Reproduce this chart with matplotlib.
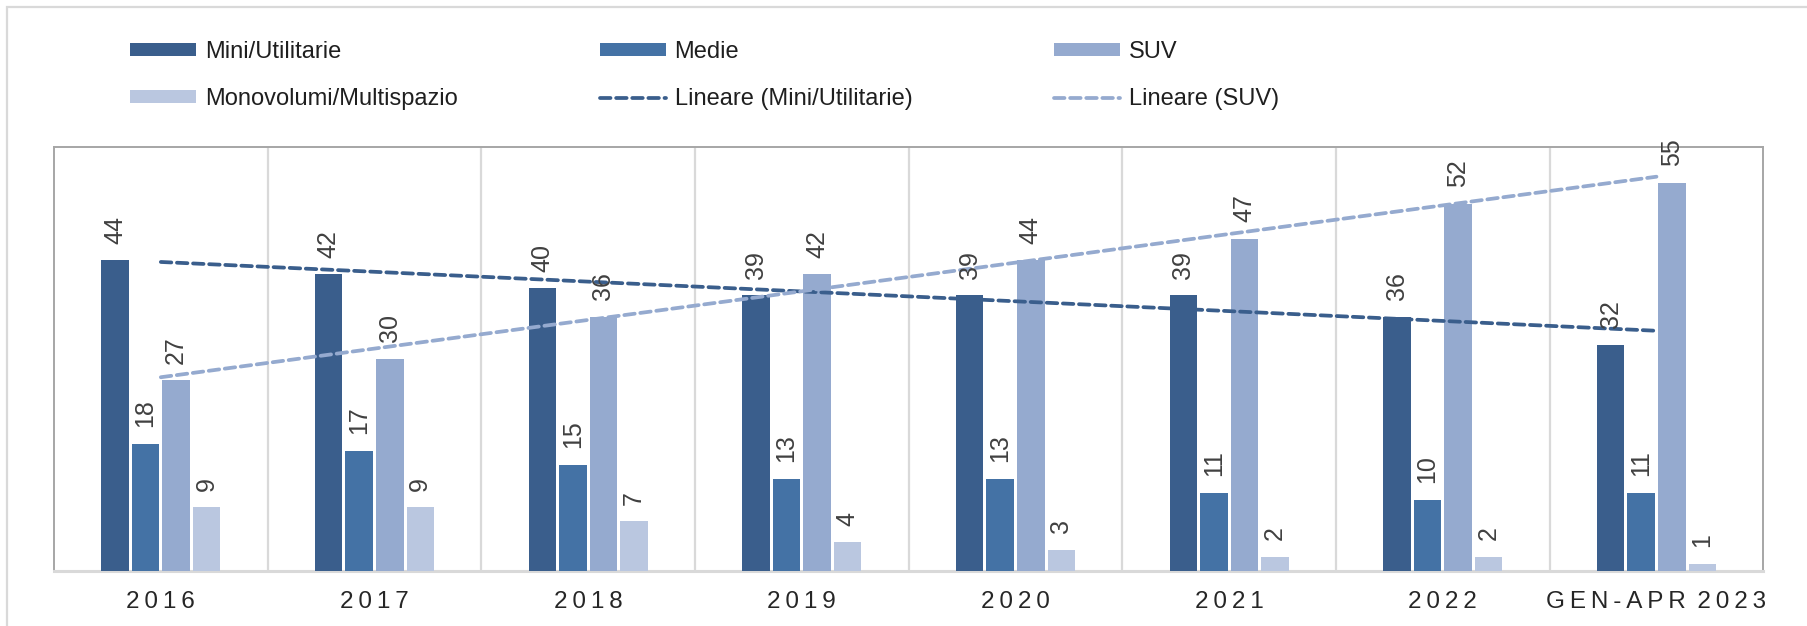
import numpy as np
import matplotlib
matplotlib.use("Agg")
import matplotlib.pyplot as plt
from matplotlib.patches import Rectangle

plt.rcParams['font.family'] = ['Liberation Sans', 'DejaVu Sans']

categories = ["2016", "2017", "2018", "2019", "2020", "2021", "2022", "GEN-APR 2023"]
mini = [44, 42, 40, 39, 39, 39, 36, 32]
medie = [18, 17, 15, 13, 13, 11, 10, 11]
suv = [27, 30, 36, 42, 44, 47, 52, 55]
mono = [9, 9, 7, 4, 3, 2, 2, 1]

series_names = ["Mini/Utilitarie", "Medie", "SUV", "Monovolumi/Multispazio"]
trend_names = ["Lineare (Mini/Utilitarie)", "Lineare (SUV)"]
colors = ["#3A5E8C", "#4472A5", "#95AACF", "#BAC7E0"]

W, H = 1808, 626
fig = plt.figure(figsize=(W / 100, H / 100), dpi=100)

# outer light frame
fig.patches.append(Rectangle((7 / W, -0.1), 1.2, 1 - 7 / H + 0.1, transform=fig.transFigure,
                             fill=False, edgecolor="#D9D9D9", linewidth=1.6, zorder=0))

ax = fig.add_axes([54 / W, 1 - 570.7 / H, (1763.3 - 54) / W, (570.7 - 147.3) / H])

n = len(categories)
x = np.arange(n)
slot = 0.143
bw = 0.129
data = [mini, medie, suv, mono]
bars = []
for i, (vals, col, name) in enumerate(zip(data, colors, series_names)):
    offs = (i - 1.5) * slot
    b = ax.bar(x + offs, vals, width=bw, color=col, label=name, zorder=3)
    bars.append(b)
    for xi, v in zip(x + offs, vals):
        ax.annotate(str(v), (xi, v), xytext=(0, 12), textcoords="offset points",
                    rotation=90, ha="center", va="bottom", fontsize=18,
                    color="#404040", zorder=5, annotation_clip=False)

# linear trend lines (Excel "Lineare")
trend_handles = []
for vals, col, name in [(mini, colors[0], trend_names[0]),
                        (suv, colors[2], trend_names[1])]:
    k, q = np.polyfit(x, vals, 1)
    ln, = ax.plot([x[0], x[-1]], [q + k * x[0], q + k * x[-1]], color=col,
                  linestyle=(0, (2.8, 1.5)), linewidth=2.7, zorder=4, label=name,
                  dash_capstyle="round")
    trend_handles.append(ln)


def spaced(s):
    words = s.split(" ")
    return " \u2009".join("\u2009".join(list(w)) for w in words)


ax.set_xlim(-0.5, n - 0.5)
ax.set_ylim(0, 60)
ax.set_yticks([])
ax.set_xticks(x)
ax.set_xticklabels([spaced(c) for c in categories], fontsize=17.5, color="#262626")
ax.tick_params(axis="x", length=0, pad=14.5)

for b in np.arange(0.5, n - 0.5, 1.0):
    ax.axvline(b, color="#D9D9D9", linewidth=1.6, zorder=1)

for s in ["top", "left", "right"]:
    ax.spines[s].set_color("#A6A6A6")
    ax.spines[s].set_linewidth(1.4)
ax.spines["bottom"].set_color("#D9D9D9")
ax.spines["bottom"].set_linewidth(2.2)

handles = [bars[0], bars[3], bars[1], trend_handles[0], bars[2], trend_handles[1]]
labels = [series_names[0], series_names[3], series_names[1], trend_names[0],
          series_names[2], trend_names[1]]
leg = fig.legend(handles, labels, ncol=3, loc="upper left",
                 bbox_to_anchor=(130 / W, 1 - 41 / H), frameon=False,
                 fontsize=17, borderpad=0, borderaxespad=0,
                 handlelength=2.8, handleheight=0.47, handletextpad=0.38,
                 labelspacing=1.07, columnspacing=6.0)
for t in leg.get_texts():
    t.set_color("#1F1F1F")

fig.savefig("out.png", dpi=100, facecolor="white")
